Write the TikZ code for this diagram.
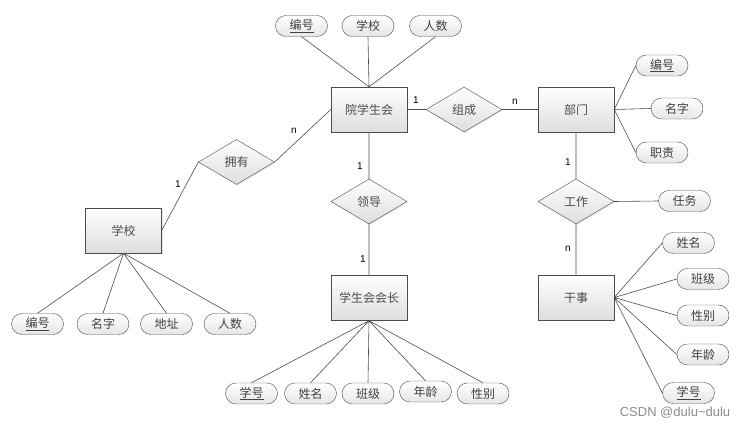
\documentclass[tikz,border=0pt]{standalone}
\usepackage{fontspec}
\setmainfont{Noto Sans CJK SC}
\newfontfamily\lblfont{Liberation Sans}
\usetikzlibrary{shapes,shadows}

\begin{document}
\begin{tikzpicture}[x=1pt,y=-1pt,inner sep=0pt,
  ent/.style={rectangle,draw=black!70,top color=white,bottom color=black!13,
    minimum width=76pt,minimum height=45pt,text=black!70,font=\fontsize{12}{14}\selectfont,
    drop shadow={opacity=0.2,shadow xshift=1pt,shadow yshift=-1pt}},
  rel/.style={ent,diamond,minimum width=76pt,minimum height=45pt},
  attr/.style={rounded rectangle,draw=black!70,top color=white,bottom color=black!10,
    minimum width=52pt,minimum height=21pt,text=black!75,font=\fontsize{12}{14}\selectfont},
  card/.style={font=\lblfont\fontsize{10}{12}\selectfont},
  conn/.style={draw=black!70,line width=0.6pt}]
\useasboundingbox (0,0) rectangle (753,430);
\node[ent] (xsh) at (369,109.5) {院学生会};
\node[ent] (bm) at (576,109.5) {部门};
\node[ent] (xx) at (123.5,230.5) {学校};
\node[ent] (hz) at (369,298) {学生会会长};
\node[ent] (gs) at (576,297.5) {干事};
\node[rel] (zc) at (464,109.5) {组成};
\node[rel] (yy) at (236.5,162) {拥有};
\node[rel] (ld) at (369,201.5) {领导};
\node[rel] (gz) at (576,201.5) {工作};
\node[attr] (xsh1) at (301.5,26) {\underline{编号}};
\node[attr] (xsh2) at (368,26) {学校};
\node[attr] (xsh3) at (435.5,26) {人数};
\node[attr] (xx1) at (37.5,324) {\underline{编号}};
\node[attr] (xx2) at (103,324) {名字};
\node[attr] (xx3) at (166.5,324) {地址};
\node[attr] (xx4) at (230,324) {人数};
\node[attr] (bm1) at (662,65.5) {\underline{编号}};
\node[attr] (bm2) at (677,108.5) {名字};
\node[attr] (bm3) at (662,152.5) {职责};
\node[attr] (gz1) at (684.5,201) {任务};
\node[attr] (gs1) at (688.5,243) {姓名};
\node[attr] (gs2) at (703,279) {班级};
\node[attr] (gs3) at (703,315.5) {性别};
\node[attr] (gs4) at (703,354.5) {年龄};
\node[attr] (gs5) at (688.5,393) {\underline{学号}};
\node[attr] (hz1) at (251.5,393.5) {\underline{学号}};
\node[attr] (hz2) at (310.5,393.5) {姓名};
\node[attr] (hz3) at (368,393.5) {班级};
\node[attr] (hz4) at (425.5,391.5) {年龄};
\node[attr] (hz5) at (483,393.5) {性别};
\draw[conn] (xx.east)--(yy.west) (yy.east)--(xsh.west) (xsh.east)--(zc.west) (zc.east)--(bm.west)
  (xsh.south)--(ld.north) (ld.south)--(hz.north) (bm.south)--(gz.north) (gz.south)--(gs.north)
  (gz.east)--(gz1.west);
\draw[conn] (xsh1.south)--(xsh.north) (xsh2.south)--(xsh.north) (xsh3.south)--(xsh.north);
\draw[conn] (xx.south)--(xx1.north) (xx.south)--(xx2.north) (xx.south)--(xx3.north) (xx.south)--(xx4.north);
\draw[conn] (bm.east)--(bm1.west) (bm.east)--(bm2.west) (bm.east)--(bm3.west);
\draw[conn] (gs.east)--(gs1.west) (gs.east)--(gs2.west) (gs.east)--(gs3.west) (gs.east)--(gs4.west) (gs.east)--(gs5.west);
\draw[conn] (hz.south)--(hz1.north) (hz.south)--(hz2.north) (hz.south)--(hz3.north) (hz.south)--(hz4.north) (hz.south)--(hz5.north);
\node[card] (c1) at (416,100) {1};
\node[card] (c2) at (515,102) {n};
\node[card] (c3) at (294,131) {n};
\node[card] (c4) at (178,184) {1};
\node[card] (c5) at (360,166) {1};
\node[card] (c6) at (363,259) {1};
\node[card] (c7) at (568,162) {1};
\node[card] (c8) at (568,249) {n};
\node[font=\lblfont\fontsize{13}{15}\selectfont,text=black!45] (wm) at (675,413) {CSDN @dulu\textasciitilde dulu};
\end{tikzpicture}
\end{document}
